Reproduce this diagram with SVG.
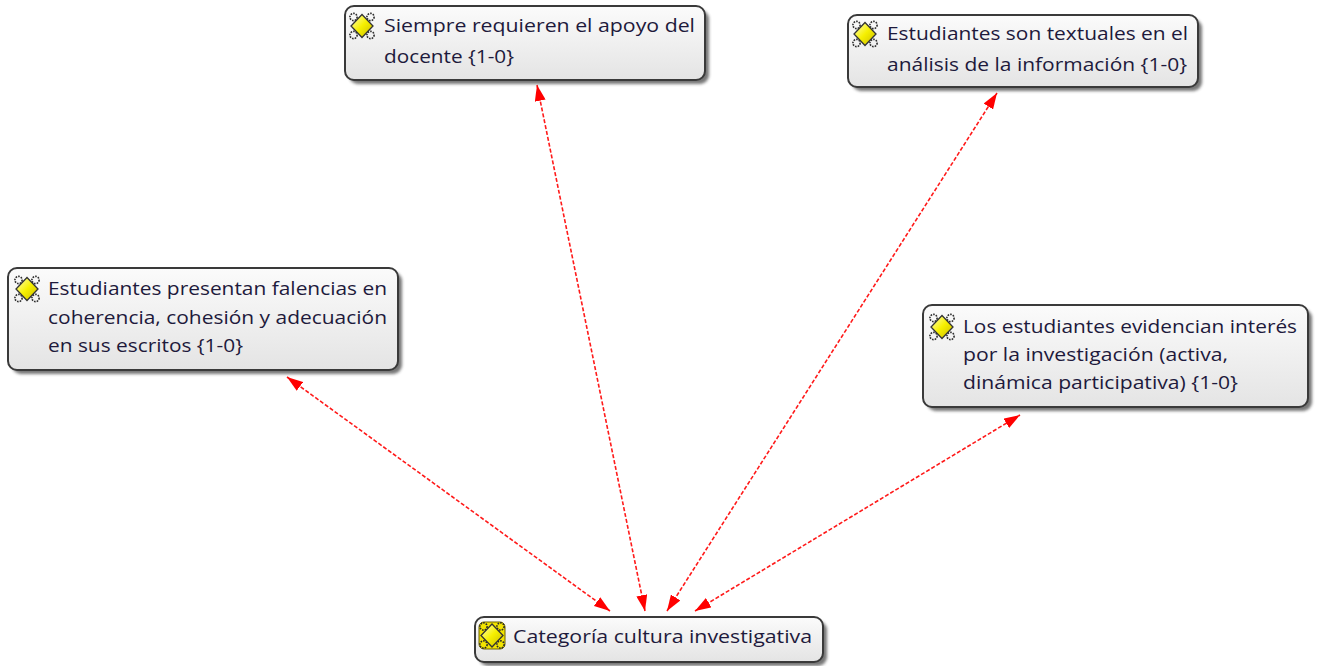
<svg xmlns="http://www.w3.org/2000/svg" width="1322" height="666" viewBox="0 0 1322 666">
<style>
.box{fill:url(#bg);stroke:#3a3a3a;stroke-width:2}
.shadow{fill:#3c3c3c;opacity:0.7;filter:url(#blur)}
.t{font-family:"Open Sans","Noto Sans","DejaVu Sans",sans-serif;font-size:18px;fill:#1e1a3c}
.edge{stroke:#ff1a1a;stroke-width:1.6;stroke-dasharray:4 2;fill:none;marker-start:url(#ah);marker-end:url(#ah)}
</style>
<defs>
<linearGradient id="bg" x1="0" y1="0" x2="0" y2="1">
<stop offset="0" stop-color="#fbfbfb"/>
<stop offset="1" stop-color="#e4e4e4"/>
</linearGradient>
<linearGradient id="yl" x1="0" y1="0" x2="1" y2="1">
<stop offset="0" stop-color="#ffffc8"/>
<stop offset="0.5" stop-color="#f6f000"/>
<stop offset="1" stop-color="#c8b800"/>
</linearGradient>
<filter id="blur" x="-10%" y="-20%" width="120%" height="140%">
<feGaussianBlur stdDeviation="1.8"/>
</filter>
<marker id="ah" viewBox="0 0 16 11" refX="16" refY="5.5" markerWidth="16" markerHeight="11" markerUnits="userSpaceOnUse" orient="auto-start-reverse">
<path d="M0,0 L16,5.5 L0,11 z" fill="#ff0000"/>
</marker>
<g id="code">
<g fill="none" stroke="#2a2a2a" stroke-width="1.6" stroke-dasharray="1.6 1.1">
<circle cx="-8.5" cy="-9" r="3.6"/>
<circle cx="8.5" cy="-9" r="3.6"/>
<circle cx="-8.5" cy="9" r="3.6"/>
<circle cx="8.5" cy="9" r="3.6"/>
</g>
<path d="M0,-11.5 L11,0 L0,11.5 L-11,0 z" fill="url(#yl)" stroke="#333" stroke-width="1.3"/>
</g>
</defs>

<g id="connectors">
<line class="edge" x1="610" y1="611" x2="287" y2="377"/>
<line class="edge" x1="645" y1="611" x2="537" y2="85"/>
<line class="edge" x1="667" y1="611" x2="997" y2="93"/>
<line class="edge" x1="695" y1="611" x2="1020" y2="415"/>
</g>

<g id="node-siempre">
<rect class="shadow" x="349" y="10" width="360" height="74" rx="9"/>
<rect class="box" x="345" y="6" width="360" height="74" rx="9"/>
<use href="#code" x="362" y="26"/>
<text class="t" x="384" y="32" textLength="311" lengthAdjust="spacingAndGlyphs">Siempre requieren el apoyo del</text>
<text class="t" x="384" y="63" textLength="130" lengthAdjust="spacingAndGlyphs">docente {1-0}</text>
</g>

<g id="node-textuales">
<rect class="shadow" x="852" y="19" width="350" height="72" rx="9"/>
<rect class="box" x="848" y="15" width="350" height="72" rx="9"/>
<use href="#code" x="865" y="34"/>
<text class="t" x="887" y="40" textLength="301" lengthAdjust="spacingAndGlyphs">Estudiantes son textuales en el</text>
<text class="t" x="887" y="71" textLength="300" lengthAdjust="spacingAndGlyphs">análisis de la información {1-0}</text>
</g>

<g id="node-falencias">
<rect class="shadow" x="12" y="272" width="390" height="102" rx="9"/>
<rect class="box" x="8" y="268" width="390" height="102" rx="9"/>
<use href="#code" x="27" y="289"/>
<text class="t" x="48" y="295" textLength="339" lengthAdjust="spacingAndGlyphs">Estudiantes presentan falencias en</text>
<text class="t" x="48" y="324" textLength="339" lengthAdjust="spacingAndGlyphs">coherencia, cohesión y adecuación</text>
<text class="t" x="48" y="352" textLength="195" lengthAdjust="spacingAndGlyphs">en sus escritos {1-0}</text>
</g>

<g id="node-interes">
<rect class="shadow" x="927" y="309" width="385" height="102" rx="9"/>
<rect class="box" x="923" y="305" width="385" height="102" rx="9"/>
<use href="#code" x="942" y="327"/>
<text class="t" x="963" y="333" textLength="334" lengthAdjust="spacingAndGlyphs">Los estudiantes evidencian interés</text>
<text class="t" x="963" y="361" textLength="265" lengthAdjust="spacingAndGlyphs">por la investigación (activa,</text>
<text class="t" x="963" y="389" textLength="275" lengthAdjust="spacingAndGlyphs">dinámica participativa) {1-0}</text>
</g>

<g id="node-categoria">
<rect class="shadow" x="479" y="621" width="348" height="45" rx="9"/>
<rect class="box" x="475" y="617" width="348" height="45" rx="9"/>
<rect x="479" y="622" width="26" height="27" rx="5" fill="#f2e400" stroke="#6a6000" stroke-width="1"/>
<use href="#code" x="492" y="635.5"/>
<text class="t" x="513" y="643" textLength="299" lengthAdjust="spacingAndGlyphs">Categoría cultura investigativa</text>
</g>
</svg>
